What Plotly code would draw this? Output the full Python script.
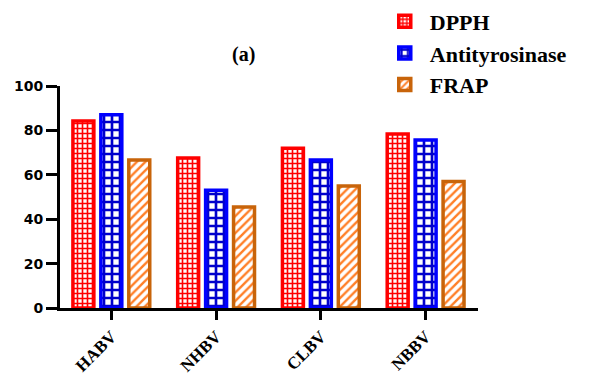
import plotly.graph_objects as go

categories = ["HABV", "NHBV", "CLBV", "NBBV"]
dpph = [84.2, 67.6, 72.0, 78.4]
antityrosinase = [87.0, 53.0, 66.7, 75.7]
frap = [66.7, 45.5, 55.0, 57.0]
y_ticks = [0, 20, 40, 60, 80, 100]

series = [
    ("DPPH", dpph, "#FF0000", "#FF0000", "+", 5, 0.55),
    ("Antityrosinase", antityrosinase, "#0000CC", "#0000FF", "+", 8, 0.55),
    ("FRAP", frap, "#FF7F27", "#C8640A", "/", 6, 0.4),
]

fig = go.Figure()
for name, vals, fg, line, shape, size, sol in series:
    fig.add_trace(go.Bar(
        x=categories, y=vals, name="<b>%s</b>" % name,
        marker=dict(
            color="white",
            line=dict(color=line, width=3.5),
            pattern=dict(shape=shape, fgcolor=fg, bgcolor="white",
                         size=size, solidity=sol, fillmode="replace"),
        ),
    ))

fig.update_layout(
    width=597, height=376,
    margin=dict(l=52, r=127, t=78, b=76, autoexpand=False),
    paper_bgcolor="white", plot_bgcolor="white",
    barmode="group", bargap=0.2, bargroupgap=0.25,
    showlegend=True,
    legend=dict(x=0.765, y=1.385, xanchor="left", yanchor="top",
                font=dict(family="Liberation Serif", size=22, color="black"),
                bgcolor="rgba(0,0,0,0)", itemwidth=40, tracegroupgap=2),
    annotations=[dict(text="<b>(a)</b>", x=0.438, y=1.203, xref="paper", yref="paper",
                      showarrow=False,
                      font=dict(family="Liberation Serif", size=20, color="black"))],
    xaxis=dict(
        range=[-0.49, 3.5],
        showline=True, linecolor="black", linewidth=3,
        ticks="outside", ticklen=9, tickwidth=3, tickcolor="black",
        tickangle=-45,
        tickfont=dict(family="Liberation Serif", size=17, color="black"),
        tickvals=categories, ticktext=["<b>%s</b>" % c for c in categories],
    ),
    yaxis=dict(
        range=[0, 100],
        showline=True, linecolor="black", linewidth=3,
        ticks="outside", ticklen=11, tickwidth=3, tickcolor="black",
        tickvals=y_ticks, ticktext=["<b>%d</b>" % v for v in y_ticks],
        tickfont=dict(family="DejaVu Sans", size=14, color="black"),
        showgrid=False, zeroline=False,
    ),
)

fig.write_html("out.html")
